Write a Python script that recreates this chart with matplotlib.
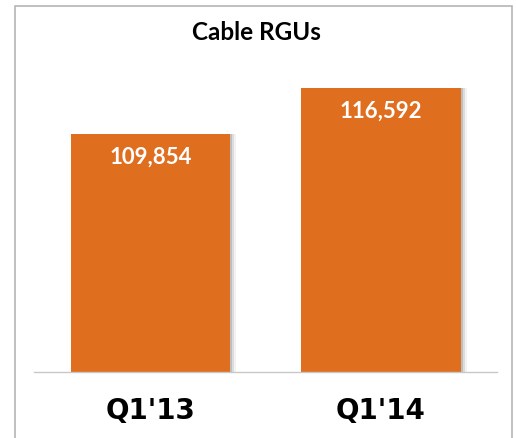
import matplotlib.pyplot as plt
from matplotlib.patches import Rectangle

categories = ["Q1'13", "Q1'14"]
values = [109854, 116592]
value_labels = ['109,854', '116,592']
title = 'Cable RGUs'

bar_color = '#E06E1F'

fig = plt.figure(figsize=(5.16, 4.39), dpi=100)

# outer frame of the chart
fig.patches.append(Rectangle((15 / 516, -0.05), 497 / 516, 1 - 7 / 439 + 0.05,
                             transform=fig.transFigure, fill=False,
                             edgecolor='#b5b5b5', linewidth=1.2))

ax = fig.add_axes([34 / 516, (439 - 373) / 439, 463 / 516, 313 / 439])
x = range(len(categories))

# soft shadow to the right of each bar
for off, a in [(0.01, 0.22), (0.018, 0.14), (0.026, 0.07)]:
    ax.bar([i + off for i in x], values, width=0.69, color='#555555',
           alpha=a, zorder=1)
ax.bar(x, values, width=0.69, color=bar_color, zorder=2)

ax.set_xlim(-0.505, 1.503)
ax.set_ylim(75000, 120850)

for i, v in enumerate(values):
    ax.text(i, v - 3300, value_labels[i], ha='center', va='center',
            color='white', fontsize=16, fontweight='bold', family='Lato',
            zorder=3)

for s in ['top', 'right', 'left']:
    ax.spines[s].set_visible(False)
ax.spines['bottom'].set_color('#c8c8c8')
ax.spines['bottom'].set_linewidth(1.0)
ax.set_yticks([])
ax.set_xticks(list(x))
ax.set_xticklabels(categories, fontsize=20, fontweight='bold',
                   family='DejaVu Sans')
ax.tick_params(axis='x', length=0, pad=17)

fig.text(256 / 516, 1 - 32 / 439, title, ha='center', va='center',
         fontsize=17.5, fontweight='bold', family='Lato')

fig.savefig('out.png', dpi=100)
